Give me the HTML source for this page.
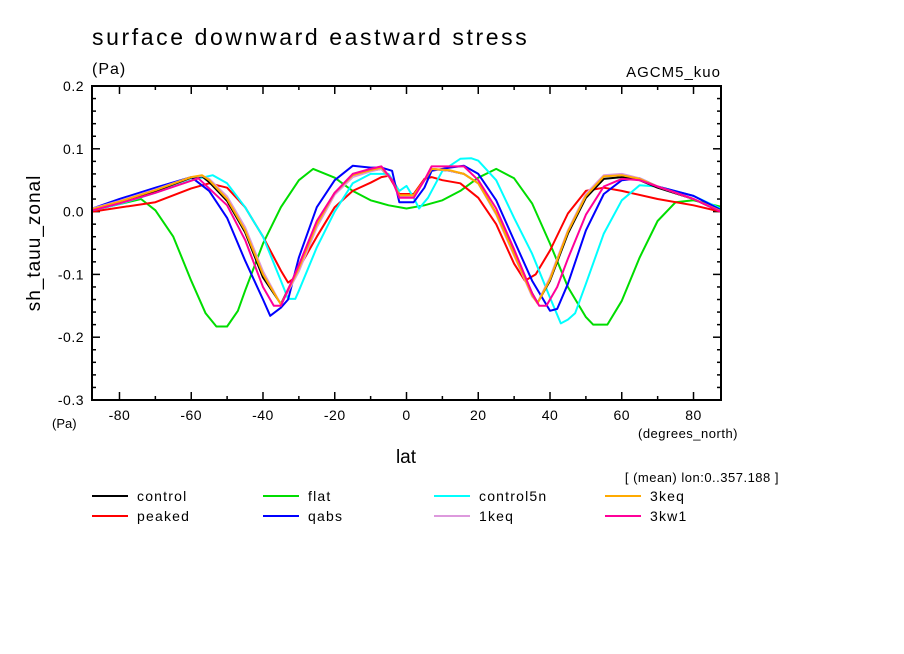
<!DOCTYPE html>
<html><head><meta charset="utf-8">
<style>
body{margin:0;background:#fff;}
svg{display:block;font-family:"Liberation Sans",sans-serif;}
</style></head>
<body>
<svg id="chart" width="904" height="654" viewBox="0 0 904 654" xmlns="http://www.w3.org/2000/svg">
<rect width="904" height="654" fill="#fff"/>
<text x="92" y="45" font-size="23" letter-spacing="2.6">surface downward eastward stress</text>
<text x="92" y="74" font-size="16" letter-spacing="1">(Pa)</text>
<text x="721" y="77" font-size="15" text-anchor="end" letter-spacing="1">AGCM5_kuo</text>
<text transform="translate(40,243) rotate(-90)" font-size="19" text-anchor="middle" letter-spacing="1">sh_tauu_zonal</text>
<text x="52" y="428" font-size="13">(Pa)</text>
<text x="738" y="438" font-size="13" text-anchor="end" letter-spacing="0.5">(degrees_north)</text>
<text x="406" y="463" font-size="19" text-anchor="middle">lat</text>
<text x="779" y="482" font-size="13" text-anchor="end" letter-spacing="0.5">[ (mean) lon:0..357.188 ]</text>
<g id="ticks"></g>
<g id="series"></g>
<rect x="92" y="86" width="629" height="314" fill="none" stroke="#000" stroke-width="2"/>
<g id="legend"></g>
</svg>
<script>
const xTicks=[-80,-60,-40,-20,0,20,40,60,80];
const yTicks=[-0.3,-0.2,-0.1,0.0,0.1,0.2];
const yTickLabels=["-0.3","-0.2","-0.1","0.0","0.1","0.2"];
const seriesNames=["control","peaked","flat","qabs","control5n","1keq","3keq","3kw1"];
const seriesColors=["#000000","#ff0000","#00dd00","#0000ff","#00ffff","#dd99dd","#ffaa00","#ff0099"];

const latControl=[-87.5,-80,-70,-60,-57,-55,-50,-45,-40,-35,-30,-25,-20,-15,-10,-7,-4,-2,0,2,5,7,12,16,20,25,30,35,36.5,40,45,50,55,60,65,70,80,87.5];
const valControl=[0.003,0.015,0.033,0.054,0.056,0.047,0.017,-0.033,-0.105,-0.147,-0.089,-0.019,0.03,0.057,0.065,0.068,0.05,0.025,0.025,0.025,0.05,0.068,0.065,0.06,0.045,-0.003,-0.067,-0.13,-0.145,-0.11,-0.035,0.022,0.052,0.055,0.05,0.038,0.02,0];
const val3keq=[0.004,0.016,0.034,0.055,0.058,0.05,0.02,-0.03,-0.1,-0.148,-0.09,-0.02,0.03,0.058,0.066,0.07,0.05,0.026,0.026,0.026,0.05,0.068,0.066,0.06,0.045,-0.003,-0.068,-0.133,-0.146,-0.108,-0.032,0.025,0.056,0.058,0.052,0.04,0.02,0.001];
const val1keq=[0.005,0.017,0.035,0.055,0.057,0.052,0.024,-0.025,-0.095,-0.148,-0.095,-0.025,0.027,0.055,0.064,0.068,0.05,0.025,0.025,0.025,0.05,0.068,0.065,0.06,0.045,-0.005,-0.07,-0.135,-0.145,-0.105,-0.03,0.028,0.058,0.06,0.053,0.04,0.02,0.001];
const latPeaked=[-87.5,-70,-60,-55,-50,-45,-40,-35,-33,-31,-30,-25,-20,-15,-10,-7,-5,-2,0,2,5,7,10,15,20,25,30,33,36,40,45,50,55,60,70,80,87.5];
const valPeaked=[0,0.015,0.037,0.045,0.038,0.007,-0.04,-0.094,-0.113,-0.105,-0.09,-0.04,0.007,0.033,0.046,0.055,0.057,0.028,0.028,0.028,0.052,0.055,0.05,0.045,0.022,-0.02,-0.083,-0.11,-0.1,-0.062,-0.003,0.033,0.038,0.033,0.02,0.01,0];
const latFlat=[-87.5,-80,-74,-70,-65,-60,-56,-53,-50,-47,-45,-40,-35,-30,-26,-20,-15,-10,-5,0,5,10,15,20,25,30,35,40,45,50,52,56,60,65,70,75,80,87.5];
const valFlat=[0.002,0.012,0.02,0.002,-0.04,-0.11,-0.162,-0.183,-0.183,-0.158,-0.126,-0.051,0.007,0.05,0.068,0.054,0.033,0.018,0.01,0.005,0.01,0.018,0.033,0.054,0.068,0.053,0.013,-0.051,-0.12,-0.168,-0.18,-0.18,-0.142,-0.073,-0.015,0.015,0.018,0.008];
const latQabs=[-87.5,-80,-70,-60,-55,-50,-45,-40,-38,-35,-33,-30,-25,-20,-15,-10,-7,-4,-2,0,2,5,7,12,16,20,25,30,35,40,42,45,50,55,60,65,70,80,87.5];
const valQabs=[0.005,0.02,0.038,0.055,0.033,-0.01,-0.078,-0.14,-0.166,-0.153,-0.14,-0.073,0.007,0.05,0.073,0.07,0.07,0.065,0.015,0.015,0.015,0.038,0.065,0.07,0.073,0.06,0.018,-0.046,-0.11,-0.158,-0.155,-0.115,-0.03,0.028,0.05,0.053,0.04,0.025,0.003];
const latC5n=[-87.5,-80,-70,-60,-54,-50,-45,-40,-35,-33,-31,-30,-25,-20,-15,-10,-5,-2,0,2,3.5,6,10,15,18,20,25,30,35,40,43,45,47,50,55,60,65,70,80,87.5];
const valC5n=[0.002,0.012,0.03,0.05,0.058,0.045,0.007,-0.04,-0.11,-0.139,-0.139,-0.126,-0.057,0,0.045,0.06,0.06,0.033,0.041,0.022,0.005,0.022,0.065,0.084,0.085,0.081,0.05,-0.01,-0.067,-0.137,-0.178,-0.172,-0.162,-0.115,-0.035,0.018,0.042,0.04,0.025,0.005];
const lat3kw1=[-87.5,-80,-70,-58,-50,-45,-40,-37,-35,-30,-25,-20,-15,-10,-7,-4,-2,0,2,5,7,12,16,20,25,30,35,37,39,42,45,50,55,60,65,70,80,87.5];
const val3kw1=[0.002,0.013,0.03,0.053,0.01,-0.045,-0.12,-0.15,-0.15,-0.085,-0.015,0.03,0.06,0.068,0.072,0.05,0.022,0.022,0.022,0.05,0.072,0.072,0.072,0.05,0.005,-0.06,-0.13,-0.15,-0.15,-0.12,-0.075,-0.005,0.04,0.052,0.05,0.04,0.02,0];

const X0=92,X1=721,Y0=86,Y1=400,LMIN=-87.66,LMAX=87.66,VMIN=-0.3,VMAX=0.2;
function xs(l){return X0+(l-LMIN)/(LMAX-LMIN)*(X1-X0);}
function ys(v){return Y1-(v-VMIN)/(VMAX-VMIN)*(Y1-Y0);}
const NS="http://www.w3.org/2000/svg";
function mk(tag,attrs,parent){const e=document.createElementNS(NS,tag);for(const k in attrs)e.setAttribute(k,attrs[k]);parent.appendChild(e);return e;}

const tg=document.getElementById('ticks');
for(let l=-80;l<=80;l+=10){
  const major=(l%20===0);const len=major?8:4;const x=xs(l);
  const t1=mk('line',{x1:x,y1:Y1,x2:x,y2:Y1-len,stroke:'#000','stroke-width':1.5},tg);
  
  
  const t2=mk('line',{x1:x,y1:Y0,x2:x,y2:Y0+len,stroke:'#000','stroke-width':1.5},tg);
  
  
}
xTicks.forEach(l=>{
  const t=mk('text',{x:xs(l),y:Y1+20,'font-size':14,'text-anchor':'middle','letter-spacing':0.5},tg);t.textContent=String(l);
  
  
});
for(let i=0;i<=25;i++){
  const v=VMIN+i*0.02;const major=(i%5===0);const len=major?8:4;const y=ys(v);
  const a=mk('line',{x1:X0,y1:y,x2:X0+len,y2:y,stroke:'#000','stroke-width':1.5},tg);
  
  
  const b=mk('line',{x1:X1,y1:y,x2:X1-len,y2:y,stroke:'#000','stroke-width':1.5},tg);
  
  
}
yTicks.forEach((v,i)=>{
  const t=mk('text',{x:84,y:ys(v)+5,'font-size':14,'text-anchor':'end','letter-spacing':0.5},tg);t.textContent=yTickLabels[i];
  
  
});

const sg=document.getElementById('series');
const drawOrder=[
 [latFlat,valFlat,2],[latPeaked,valPeaked,1],[latC5n,valC5n,4],[latQabs,valQabs,3],
 [latControl,valControl,0],[latControl,val1keq,5],[latControl,val3keq,6],[lat3kw1,val3kw1,7]];
drawOrder.forEach(d=>{
  const pts=d[0].map((l,i)=>xs(l).toFixed(1)+','+ys(d[1][i]).toFixed(1)).join(' ');
  const p=mk('polyline',{points:pts,fill:'none',stroke:seriesColors[d[2]],'stroke-width':2,'stroke-linejoin':'round'},sg);
  
  
});

const lg=document.getElementById('legend');
const legendOrder=[0,2,4,6,1,3,5,7];
legendOrder.forEach((si,k)=>{
  const col=k%4,row=Math.floor(k/4);
  const x=92+col*171,y=496+row*20;
  const g=mk('g',{},lg);
  
  
  mk('line',{x1:x,y1:y,x2:x+36,y2:y,stroke:seriesColors[si],'stroke-width':2},g);
  const t=mk('text',{x:x+45,y:y+5,'font-size':14,'letter-spacing':1.2},g);t.textContent=seriesNames[si];
});
</script>
</body></html>
